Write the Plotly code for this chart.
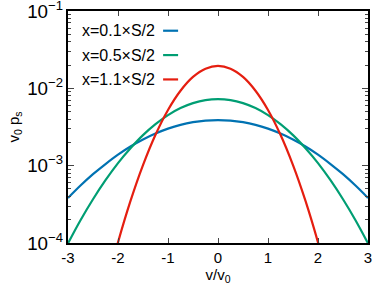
import plotly.graph_objects as go

v = [-3.0, -2.75, -2.5, -2.25, -2.0, -1.75, -1.5, -1.25, -1.0, -0.75, -0.5, -0.25, 0.0,
     0.25, 0.5, 0.75, 1.0, 1.25, 1.5, 1.75, 2.0, 2.25, 2.5, 2.75, 3.0]

# half-profiles (v = 0, 0.25, ..., 3), mirrored below
blue_half = [3.89e-3, 3.83e-3, 3.65e-3, 3.37e-3, 3.01e-3, 2.60e-3, 2.18e-3, 1.77e-3,
             1.39e-3, 1.05e-3, 7.76e-4, 5.53e-4, 3.82e-4]
green_half = [7.24e-3, 7.03e-3, 6.43e-3, 5.55e-3, 4.50e-3, 3.44e-3, 2.48e-3, 1.68e-3,
              1.08e-3, 6.49e-4, 3.68e-4, 1.97e-4, 9.9e-5]
red_half = [1.95e-2, 1.795e-2, 1.405e-2, 9.31e-3, 5.25e-3, 2.51e-3, 1.017e-3, 3.50e-4,
            1.02e-4, 2.54e-5, 5.0e-6, 7.0e-7, 7.0e-8]

names = ["x=0.1×S/2", "x=0.5×S/2", "x=1.1×S/2"]
colors = ["#0072b2", "#009e73", "#e51e10"]
halves = [blue_half, green_half, red_half]

x_ticks = [-3, -2, -1, 0, 1, 2, 3]

fig = go.Figure()
for name, col, half in zip(names, colors, halves):
    y = half[::-1] + half[1:]
    fig.add_trace(go.Scatter(x=v, y=y, mode="lines", name=name,
                             line=dict(color=col, width=2.2, shape="spline"),
                             showlegend=False, cliponaxis=True))

font = "Liberation Sans, Arial, sans-serif"
# legend drawn manually: text right-aligned, line sample to the right
row_y = [0.915, 0.81, 0.705]
for name, col, ry in zip(names, colors, row_y):
    fig.add_annotation(xref="paper", yref="paper", x=0.297, y=ry, text=name,
                       showarrow=False, xanchor="right", yanchor="middle",
                       font=dict(size=16, color="black", family=font))
    fig.add_shape(type="line", xref="paper", yref="paper", x0=0.317, x1=0.367,
                  y0=ry, y1=ry, line=dict(color=col, width=2.2))

fig.update_layout(
    width=374, height=292,
    margin=dict(l=68, r=6, t=11, b=49, autoexpand=False),
    plot_bgcolor="white", paper_bgcolor="white",
    font=dict(family=font, size=15, color="black"),
)
fig.update_xaxes(range=[-3, 3], tickvals=x_ticks, ticktext=[str(t) for t in x_ticks],
                 ticks="inside", ticklen=5,
                 mirror="allticks", showline=True, linecolor="black", linewidth=2,
                 showgrid=False, zeroline=False, tickfont=dict(size=15),
                 ticklabeloverflow="allow", ticklabelstandoff=0,
                 automargin=False,
                 title=dict(text="v/v<sub>0</sub>", font=dict(size=15), standoff=0))
fig.update_yaxes(type="log", range=[-4, -1], dtick=1, exponentformat="power",
                 ticks="inside", ticklen=6, mirror="allticks", showline=True,
                 linecolor="black", linewidth=2, showgrid=False, zeroline=False,
                 minor=dict(ticks="inside", ticklen=3, dtick="D1", showgrid=False),
                 tickfont=dict(size=15), ticklabeloverflow="allow",
                 automargin=False,
                 title=dict(text="v<sub>0</sub> p<sub>s</sub>", font=dict(size=15), standoff=4))

fig.write_html("out.html", config={"displayModeBar": False},
               post_script="document.body.style.margin='0';document.body.style.padding='0';")
